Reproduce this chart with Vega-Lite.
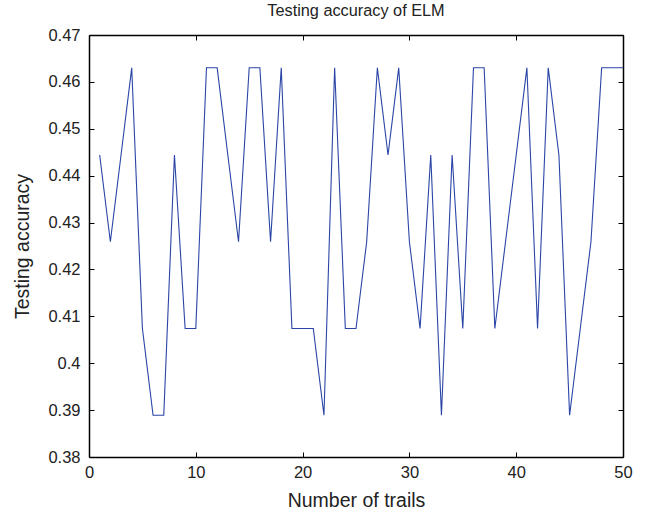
{
  "$schema": "https://vega.github.io/schema/vega-lite/v6.json",
  "width": 534,
  "height": 422,
  "autosize": "none",
  "padding": {"left": 89, "top": 35, "right": 23, "bottom": 56},
  "background": "white",
  "title": {"text": "Testing accuracy of ELM", "font": "Liberation Sans", "fontSize": 16.3, "fontWeight": "normal", "color": "#222", "offset": 8},
  "config": {
    "view": {"stroke": null},
    "axis": {"font": "Liberation Sans", "labelFont": "Liberation Sans", "titleFont": "Liberation Sans", "labelColor": "#222", "titleColor": "#222", "labelFontSize": 16.5, "titleFontSize": 19.5, "titleFontWeight": "normal", "domainColor": "#000", "domainWidth": 1.5, "tickColor": "#000", "tickSize": -5, "grid": false}
  },
  "data": {"values": [
    {"trial": 1, "acc": 0.4444}, {"trial": 2, "acc": 0.4259}, {"trial": 3, "acc": 0.4444}, {"trial": 4, "acc": 0.4630},
    {"trial": 5, "acc": 0.4074}, {"trial": 6, "acc": 0.3889}, {"trial": 7, "acc": 0.3889}, {"trial": 8, "acc": 0.4444},
    {"trial": 9, "acc": 0.4074}, {"trial": 10, "acc": 0.4074}, {"trial": 11, "acc": 0.4630}, {"trial": 12, "acc": 0.4630},
    {"trial": 13, "acc": 0.4444}, {"trial": 14, "acc": 0.4259}, {"trial": 15, "acc": 0.4630}, {"trial": 16, "acc": 0.4630},
    {"trial": 17, "acc": 0.4259}, {"trial": 18, "acc": 0.4630}, {"trial": 19, "acc": 0.4074}, {"trial": 20, "acc": 0.4074},
    {"trial": 21, "acc": 0.4074}, {"trial": 22, "acc": 0.3889}, {"trial": 23, "acc": 0.4630}, {"trial": 24, "acc": 0.4074},
    {"trial": 25, "acc": 0.4074}, {"trial": 26, "acc": 0.4259}, {"trial": 27, "acc": 0.4630}, {"trial": 28, "acc": 0.4444},
    {"trial": 29, "acc": 0.4630}, {"trial": 30, "acc": 0.4259}, {"trial": 31, "acc": 0.4074}, {"trial": 32, "acc": 0.4444},
    {"trial": 33, "acc": 0.3889}, {"trial": 34, "acc": 0.4444}, {"trial": 35, "acc": 0.4074}, {"trial": 36, "acc": 0.4630},
    {"trial": 37, "acc": 0.4630}, {"trial": 38, "acc": 0.4074}, {"trial": 39, "acc": 0.4259}, {"trial": 40, "acc": 0.4444},
    {"trial": 41, "acc": 0.4630}, {"trial": 42, "acc": 0.4074}, {"trial": 43, "acc": 0.4630}, {"trial": 44, "acc": 0.4444},
    {"trial": 45, "acc": 0.3889}, {"trial": 46, "acc": 0.4074}, {"trial": 47, "acc": 0.4259}, {"trial": 48, "acc": 0.4630},
    {"trial": 49, "acc": 0.4630}, {"trial": 50, "acc": 0.4630}
  ]},
  "layer": [
    {
      "mark": {"type": "line", "color": "#2a45a6", "strokeWidth": 1.1, "clip": true},
      "encoding": {
        "x": {"field": "trial", "type": "quantitative", "scale": {"domain": [0, 50], "nice": false, "zero": false},
              "axis": {"orient": "bottom", "title": "Number of trails", "values": [0, 10, 20, 30, 40, 50], "labelPadding": 12, "titlePadding": 11, "labelFlush": false}},
        "y": {"field": "acc", "type": "quantitative", "scale": {"domain": [0.38, 0.47], "nice": false, "zero": false},
              "axis": {"orient": "left", "title": "Testing accuracy", "values": [0.38, 0.39, 0.4, 0.41, 0.42, 0.43, 0.44, 0.45, 0.46, 0.47], "format": "~g", "labelPadding": 14, "titlePadding": 15, "labelFlush": false}}
      }
    },
    {
      "mark": {"type": "line", "opacity": 0},
      "encoding": {
        "x": {"field": "trial", "type": "quantitative", "axis": {"orient": "top", "title": null, "labels": false, "values": [0, 10, 20, 30, 40, 50]}},
        "y": {"field": "acc", "type": "quantitative", "axis": {"orient": "right", "title": null, "labels": false, "values": [0.38, 0.39, 0.4, 0.41, 0.42, 0.43, 0.44, 0.45, 0.46, 0.47]}}
      }
    }
  ],
  "resolve": {"axis": {"x": "independent", "y": "independent"}}
}
